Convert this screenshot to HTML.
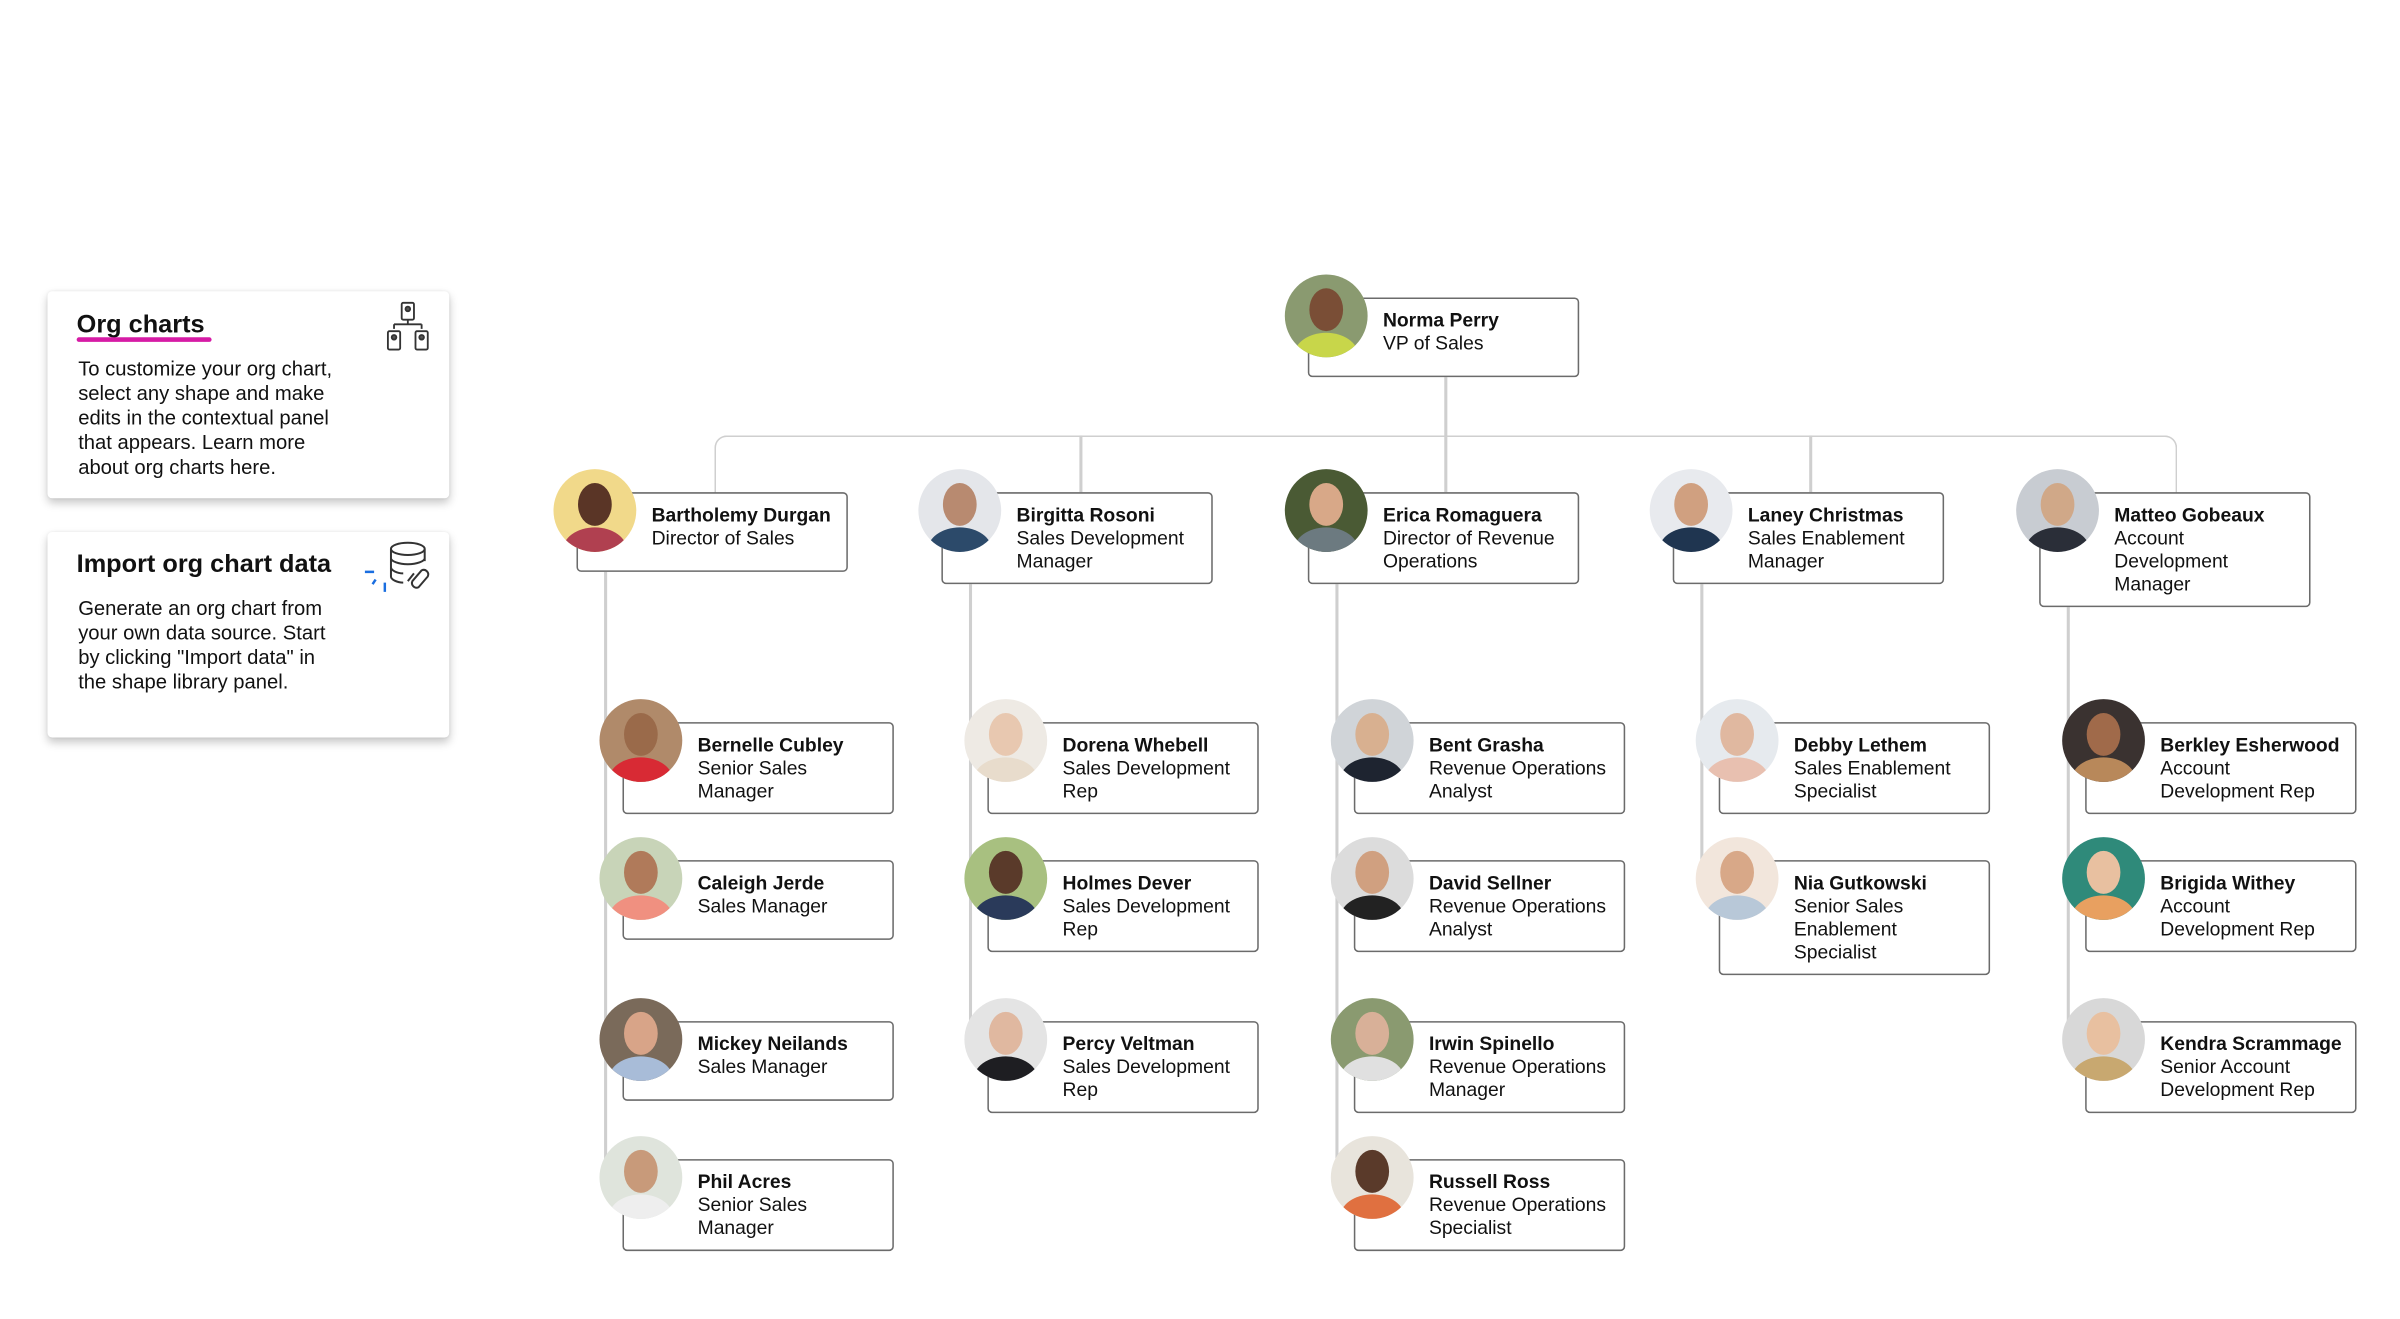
<!DOCTYPE html>
<html><head><meta charset="utf-8"><style>
html,body{margin:0;padding:0;background:#fff;width:2400px;height:1317px;overflow:hidden}
#w{position:absolute;left:0;top:0;width:1566px;height:860px;transform:scale(1.5332);transform-origin:0 0;font-family:"Liberation Sans",Arial,sans-serif;color:#111}
.b{position:absolute;width:177px;border:1.5px solid #6b6b6b;border-radius:3px;background:#fff;box-sizing:border-box}
.t{position:absolute;left:48px;top:7px;font-size:12.6px;line-height:15px;white-space:nowrap}
.t b{font-weight:bold}
.a{position:absolute;width:54px;height:54px;border-radius:50%;margin:-15px 0 0 -15px;overflow:hidden}
.a:before{content:"";position:absolute;left:16px;top:9px;width:22px;height:28px;border-radius:50%;background:var(--s,#c08a66)}
.a:after{content:"";position:absolute;left:6px;top:38px;width:42px;height:30px;border-radius:50%;background:var(--c,#3a4a6a)}
.l{position:absolute;background:#cfcfcf}
.card{position:absolute;left:31px;width:262px;background:#fff;border-radius:3px;box-shadow:0 3px 6px rgba(0,0,0,.22),0 0 2px rgba(0,0,0,.08)}
.card h2{position:absolute;left:19px;margin:0;font-size:16.5px;font-weight:bold}
.card p{position:absolute;left:20px;margin:0;font-size:13.2px;line-height:16px}
</style></head><body><div id="w">

<div class="card" style="top:190px;height:135px">
<h2 style="top:13px">Org charts</h2>
<div style="position:absolute;left:19px;top:30px;width:88px;height:2.5px;background:#d61ba5;border-radius:2px"></div>
<p style="top:43px">To customize your org chart,<br>select any shape and make<br>edits in the contextual panel<br>that appears. Learn more<br>about org charts here.</p>
<svg style="position:absolute;left:220px;top:6px" width="32" height="36" viewBox="0 0 32 36" fill="none" stroke="#333" stroke-width="1.2"><rect x="11" y="1.5" width="8" height="11" rx="1"/><path d="M15 12.5v3M6 15.5h18M6 15.5v3M24 15.5v3"/><rect x="2" y="20" width="8" height="12" rx="1"/><rect x="20" y="20" width="8" height="12" rx="1"/><circle cx="15" cy="5.5" r="1.5" fill="#555"/><circle cx="6" cy="24" r="1.5" fill="#555"/><circle cx="24" cy="24" r="1.5" fill="#555"/></svg>
</div>

<div class="card" style="top:347px;height:134px">
<h2 style="top:12px">Import org chart data</h2>
<p style="top:42px">Generate an org chart from<br>your own data source. Start<br>by clicking "Import data" in<br>the shape library panel.</p>
<svg style="position:absolute;left:205px;top:6px" width="48" height="40" viewBox="0 0 48 40" fill="none" stroke-width="1.3"><g stroke="#333"><ellipse cx="30" cy="5" rx="11" ry="4"/><path d="M19 5v18c0 2 4 4 8 4M41 5v8M19 11c0 2 5 4 11 4s11-2 11-4M19 17c0 2 4 4 8 4"/><path d="M33 26l6-7a3 3 0 0 1 4 4l-6 7a3 3 0 0 1-4-4z"/><path d="M30 26l4-5"/></g><g stroke="#1a6ee0" stroke-width="1.6"><path d="M2 20h6M9 25l-2 3M15 27v6"/></g></svg>
</div>

<!-- connectors -->
<div class="l" style="left:942px;top:246px;width:1.5px;height:39px"></div>
<div style="position:absolute;left:466px;top:284px;width:954px;height:38px;border:1.5px solid #cfcfcf;border-bottom:none;border-radius:8px 8px 0 0;box-sizing:border-box"></div>
<div class="l" style="left:704px;top:284px;width:1.5px;height:37px"></div>
<div class="l" style="left:942px;top:284px;width:1.5px;height:37px"></div>
<div class="l" style="left:1180px;top:284px;width:1.5px;height:37px"></div>
<div class="l" style="left:394px;top:373px;width:1.5px;height:398px"></div>
<div class="l" style="left:632px;top:381px;width:1.5px;height:300px"></div>
<div class="l" style="left:871px;top:381px;width:1.5px;height:390px"></div>
<div class="l" style="left:1109px;top:381px;width:1.5px;height:195px"></div>
<div class="l" style="left:1348px;top:396px;width:1.5px;height:285px"></div>

<!-- Norma -->
<div class="b" style="left:853px;top:194px;height:52px"><div class="t"><b>Norma Perry</b><br>VP of Sales</div></div>
<div class="a" style="left:853px;top:194px;background:#8a9a70;--s:#7a4e36;--c:#c8d64a"></div>

<!-- level 2 -->
<div class="b" style="left:376px;top:321px;height:52px"><div class="t"><b>Bartholemy Durgan</b><br>Director of Sales</div></div>
<div class="a" style="left:376px;top:321px;background:#f1d98a;--s:#5a3526;--c:#b04050"></div>
<div class="b" style="left:614px;top:321px;height:60px"><div class="t"><b>Birgitta Rosoni</b><br>Sales Development<br>Manager</div></div>
<div class="a" style="left:614px;top:321px;background:#e4e6ea;--s:#b88a70;--c:#2c4a6a"></div>
<div class="b" style="left:853px;top:321px;height:60px"><div class="t"><b>Erica Romaguera</b><br>Director of Revenue<br>Operations</div></div>
<div class="a" style="left:853px;top:321px;background:#4a5a34;--s:#d8a888;--c:#6c7a80"></div>
<div class="b" style="left:1091px;top:321px;height:60px"><div class="t"><b>Laney Christmas</b><br>Sales Enablement<br>Manager</div></div>
<div class="a" style="left:1091px;top:321px;background:#e8eaee;--s:#d0a080;--c:#1f3550"></div>
<div class="b" style="left:1330px;top:321px;height:75px"><div class="t"><b>Matteo Gobeaux</b><br>Account<br>Development<br>Manager</div></div>
<div class="a" style="left:1330px;top:321px;background:#c8ccd2;--s:#d0a888;--c:#2a2e38"></div>

<!-- col 1 -->
<div class="b" style="left:406px;top:471px;height:60px"><div class="t"><b>Bernelle Cubley</b><br>Senior Sales<br>Manager</div></div>
<div class="a" style="left:406px;top:471px;background:#b08a6a;--s:#9a6a4a;--c:#d82a34"></div>
<div class="b" style="left:406px;top:561px;height:52px"><div class="t"><b>Caleigh Jerde</b><br>Sales Manager</div></div>
<div class="a" style="left:406px;top:561px;background:#c8d4b8;--s:#b07a5a;--c:#f09080"></div>
<div class="b" style="left:406px;top:666px;height:52px"><div class="t"><b>Mickey Neilands</b><br>Sales Manager</div></div>
<div class="a" style="left:406px;top:666px;background:#7a6a5a;--s:#d8a488;--c:#a8bcd8"></div>
<div class="b" style="left:406px;top:756px;height:60px"><div class="t"><b>Phil Acres</b><br>Senior Sales<br>Manager</div></div>
<div class="a" style="left:406px;top:756px;background:#dfe4dc;--s:#c89a7a;--c:#eeeeee"></div>

<!-- col 2 -->
<div class="b" style="left:644px;top:471px;height:60px"><div class="t"><b>Dorena Whebell</b><br>Sales Development<br>Rep</div></div>
<div class="a" style="left:644px;top:471px;background:#eeeae4;--s:#e8c8b0;--c:#e8dccc"></div>
<div class="b" style="left:644px;top:561px;height:60px"><div class="t"><b>Holmes Dever</b><br>Sales Development<br>Rep</div></div>
<div class="a" style="left:644px;top:561px;background:#a8c080;--s:#5a3a2a;--c:#2a3a5a"></div>
<div class="b" style="left:644px;top:666px;height:60px"><div class="t"><b>Percy Veltman</b><br>Sales Development<br>Rep</div></div>
<div class="a" style="left:644px;top:666px;background:#e4e4e4;--s:#e0b8a0;--c:#1e1e22"></div>

<!-- col 3 -->
<div class="b" style="left:883px;top:471px;height:60px"><div class="t"><b>Bent Grasha</b><br>Revenue Operations<br>Analyst</div></div>
<div class="a" style="left:883px;top:471px;background:#d0d4d8;--s:#d8b090;--c:#1e2430"></div>
<div class="b" style="left:883px;top:561px;height:60px"><div class="t"><b>David Sellner</b><br>Revenue Operations<br>Analyst</div></div>
<div class="a" style="left:883px;top:561px;background:#dcdcdc;--s:#d0a080;--c:#222"></div>
<div class="b" style="left:883px;top:666px;height:60px"><div class="t"><b>Irwin Spinello</b><br>Revenue Operations<br>Manager</div></div>
<div class="a" style="left:883px;top:666px;background:#8a9a70;--s:#d8b098;--c:#e0e0e0"></div>
<div class="b" style="left:883px;top:756px;height:60px"><div class="t"><b>Russell Ross</b><br>Revenue Operations<br>Specialist</div></div>
<div class="a" style="left:883px;top:756px;background:#e8e4dc;--s:#5a3a2a;--c:#e07040"></div>

<!-- col 4 -->
<div class="b" style="left:1121px;top:471px;height:60px"><div class="t"><b>Debby Lethem</b><br>Sales Enablement<br>Specialist</div></div>
<div class="a" style="left:1121px;top:471px;background:#e6eaee;--s:#e0b8a0;--c:#e8c0b0"></div>
<div class="b" style="left:1121px;top:561px;height:75px"><div class="t"><b>Nia Gutkowski</b><br>Senior Sales<br>Enablement<br>Specialist</div></div>
<div class="a" style="left:1121px;top:561px;background:#f2e6dc;--s:#d8a888;--c:#b8c8d8"></div>

<!-- col 5 -->
<div class="b" style="left:1360px;top:471px;height:60px"><div class="t"><b>Berkley Esherwood</b><br>Account<br>Development Rep</div></div>
<div class="a" style="left:1360px;top:471px;background:#3a3230;--s:#a06a4a;--c:#b8885a"></div>
<div class="b" style="left:1360px;top:561px;height:60px"><div class="t"><b>Brigida Withey</b><br>Account<br>Development Rep</div></div>
<div class="a" style="left:1360px;top:561px;background:#2f8a7a;--s:#e8c0a0;--c:#e8a060"></div>
<div class="b" style="left:1360px;top:666px;height:60px"><div class="t"><b>Kendra Scrammage</b><br>Senior Account<br>Development Rep</div></div>
<div class="a" style="left:1360px;top:666px;background:#d8d8d8;--s:#e8c0a0;--c:#c8a870"></div>

</div></body></html>
